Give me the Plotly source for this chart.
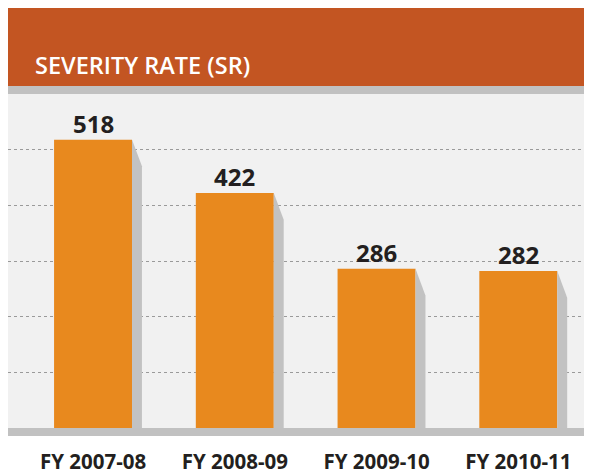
import plotly.graph_objects as go

categories = ["FY 2007-08", "FY 2008-09", "FY 2009-10", "FY 2010-11"]
sr_values = [518, 422, 286, 282]
title_text = "SEVERITY RATE (SR)"

positions = list(range(len(categories)))
half_w = 0.275
sh_w = 0.07
sh_drop = 48

fig = go.Figure()

# shadows (derived from data values)
for p, v in zip(positions, sr_values):
    fig.add_trace(go.Scatter(
        x=[p + half_w, p + half_w + sh_w, p + half_w + sh_w, p + half_w, p + half_w],
        y=[v, v - sh_drop, 0, 0, v],
        fill="toself", fillcolor="#C2C2C2", mode="none",
        hoverinfo="skip", showlegend=False))

fig.add_trace(go.Bar(
    x=positions, y=sr_values, width=2 * half_w,
    marker=dict(color="#E8891E", line=dict(width=0)),
    showlegend=False))

for p, v in zip(positions, sr_values):
    fig.add_annotation(x=p, y=v, text=str(v), showarrow=False,
                       yanchor="bottom", yshift=-2,
                       font=dict(family="Open Sans", size=24, color="#231F20", weight="bold"))

fig.update_layout(
    width=584, height=467,
    margin=dict(l=0, r=0, t=86, b=45),
    paper_bgcolor="white", plot_bgcolor="#F1F1F1",
    xaxis=dict(range=[-0.6, 3.52], tickvals=positions, ticktext=categories,
               showgrid=False, zeroline=False, showline=False, ticks="",
               ticklabelstandoff=19,
               tickfont=dict(family="Open Sans", size=20.5, color="#231F20", weight="bold")),
    yaxis=dict(range=[0, 600], tickvals=[100, 200, 300, 400, 500], showticklabels=False,
               showgrid=True, gridcolor="#9A9A9A", griddash="dot", gridwidth=1,
               zeroline=False, showline=False, ticks=""),
    shapes=[
        dict(type="rect", xref="paper", yref="paper", x0=0, x1=1,
             ysizemode="pixel", yanchor=1, y0=8, y1=86,
             fillcolor="#C35522", line=dict(width=0), layer="above"),
        dict(type="rect", xref="paper", yref="paper", x0=0, x1=1,
             ysizemode="pixel", yanchor=1, y0=0, y1=8,
             fillcolor="#C1C1C1", line=dict(width=0), layer="above"),
        dict(type="rect", xref="paper", yref="paper", x0=0, x1=1,
             ysizemode="pixel", yanchor=0, y0=0, y1=-8,
             fillcolor="#C1C1C1", line=dict(width=0), layer="above"),
    ],
)

fig.add_annotation(xref="paper", yref="paper", x=0, y=1, xanchor="left", yanchor="middle",
                   xshift=25, yshift=29, text=title_text, showarrow=False,
                   font=dict(family="Open Sans", size=23.5, color="white", weight=600))

fig.write_html("out.html")
